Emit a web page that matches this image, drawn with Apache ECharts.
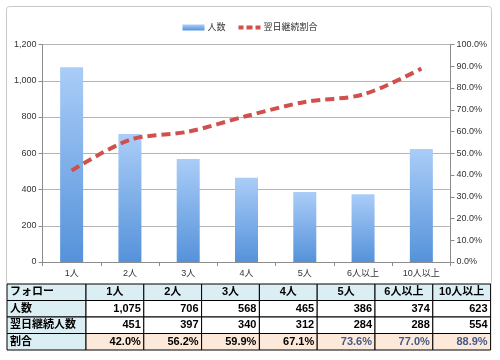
<!DOCTYPE html>
<html>
<head>
<meta charset="utf-8">
<script src="https://cdn.jsdelivr.net/npm/echarts@6/dist/echarts.min.js"></script>
<style>html,body{margin:0;padding:0;background:#fff;}#c{width:500px;height:360px;}</style>
</head>
<body>
<div id="c"></div>
<script>
var categories = ['1人', '2人', '3人', '4人', '5人', '6人以上', '10人以上'];
var counts = [1075, 706, 568, 465, 386, 374, 623];
var retained = [451, 397, 340, 312, 284, 288, 554];
var ratios = [42.0, 56.2, 59.9, 67.1, 73.6, 77.0, 88.9];
var ratioLabels = ['42.0%', '56.2%', '59.9%', '67.1%', '73.6%', '77.0%', '88.9%'];
var headerLabel = 'フォロー';
var rowLabels = ['人数', '翌日継続人数', '割合'];
var seriesNames = ['人数', '翌日継続割合'];

var FONT = '"Liberation Sans", "Noto Sans CJK JP", sans-serif';
var chart = echarts.init(document.getElementById('c'), null, {renderer: 'canvas'});

function fmtNum(v) { return String(v).replace(/\B(?=(\d{3})+(?!\d))/g, ','); }

// table graphic built from arrays
var tX = 7, tY = 284, firstW = 79, colW = 57.8, rowH = 16.5;
var blue = '#dbeef4', peach = '#fde9d9';
var g = [];
g.push({type: 'rect', shape: {x: 6.5, y: 6.5, width: 485, height: 278, r: 3}, style: {fill: 'none', stroke: '#c8c8c8', lineWidth: 1}, z: 0});
var rows = [];
rows.push({label: headerLabel, vals: categories, header: true});
rows.push({label: rowLabels[0], vals: counts.map(fmtNum)});
rows.push({label: rowLabels[1], vals: retained.map(fmtNum)});
rows.push({label: rowLabels[2], vals: ratioLabels, ratio: true});
rows.forEach(function (row, ri) {
  var y = tY + ri * rowH;
  g.push({type: 'rect', shape: {x: tX, y: y, width: firstW, height: rowH}, style: {fill: blue, stroke: '#000', lineWidth: 1}, z: 10});
  g.push({type: 'text', x: tX + 3, y: y + rowH / 2, style: {text: row.label, font: 'bold 11px ' + FONT, fill: '#000', verticalAlign: 'middle'}, z: 11});
  row.vals.forEach(function (v, ci) {
    var x = tX + firstW + ci * colW;
    var fill = row.header ? blue : (row.ratio ? peach : '#fff');
    g.push({type: 'rect', shape: {x: x, y: y, width: colW, height: rowH}, style: {fill: fill, stroke: '#000', lineWidth: 1}, z: 10});
    var color = (row.ratio && ratios[ci] > 70) ? '#44598a' : '#000';
    g.push({type: 'text', x: row.header ? x + colW / 2 : x + colW - 3, y: y + rowH / 2,
      style: {text: v, font: 'bold 11px ' + FONT, fill: color, align: row.header ? 'center' : 'right', verticalAlign: 'middle'}, z: 11});
  });
});

chart.setOption({
  animation: false,
  backgroundColor: '#fff',
  textStyle: {fontFamily: FONT},
  legend: {
    top: 18, left: 'center', itemGap: 13, itemWidth: 22, itemHeight: 6,
    textStyle: {fontSize: 9, color: '#333', fontFamily: FONT, padding: [0, 0, 0, -2]},
    data: [{name: seriesNames[0], icon: 'rect'},
           {name: seriesNames[1], icon: 'path://M0,1H5V5H0Z M8,1H14V5H8Z M17,1H22V5H17Z', itemStyle: {color: '#d0504d'}}]
  },
  grid: {left: 42.5, right: 49.5, top: 44.5, bottom: 98, containLabel: false},
  xAxis: {
    type: 'category', data: categories,
    axisLine: {lineStyle: {color: '#8c8c8c'}},
    axisTick: {show: true, alignWithLabel: false, length: 4, lineStyle: {color: '#8c8c8c'}},
    axisLabel: {fontSize: 9, color: '#333', margin: 7}
  },
  yAxis: [{
    type: 'value', min: 0, max: 1200, interval: 200,
    axisLine: {show: true, lineStyle: {color: '#8c8c8c'}},
    axisTick: {show: true, length: 4, lineStyle: {color: '#8c8c8c'}},
    axisLabel: {fontSize: 9, color: '#333', margin: 6, formatter: function (v) { return fmtNum(v); }},
    splitLine: {lineStyle: {color: '#b4b4b4'}}
  }, {
    type: 'value', min: 0, max: 100, interval: 10, position: 'right',
    axisLine: {show: true, lineStyle: {color: '#8c8c8c'}},
    axisTick: {show: true, length: 4, lineStyle: {color: '#8c8c8c'}},
    axisLabel: {fontSize: 9, color: '#333', margin: 6, formatter: function (v) { return v.toFixed(1) + '%'; }},
    splitLine: {show: false}
  }],
  series: [{
    name: seriesNames[0], type: 'bar', data: counts, barWidth: 23, yAxisIndex: 0,
    itemStyle: {color: new echarts.graphic.LinearGradient(0, 0, 0, 1, [{offset: 0, color: '#aacdf8'}, {offset: 1, color: '#5592da'}])}
  }, {
    name: seriesNames[1], type: 'line', data: ratios, yAxisIndex: 1, smooth: 0.3,
    symbol: 'none', lineStyle: {color: '#d0504d', width: 4, type: [9, 5]},
    itemStyle: {color: '#d0504d'}, z: 5
  }],
  graphic: g
});
</script>
</body>
</html>
